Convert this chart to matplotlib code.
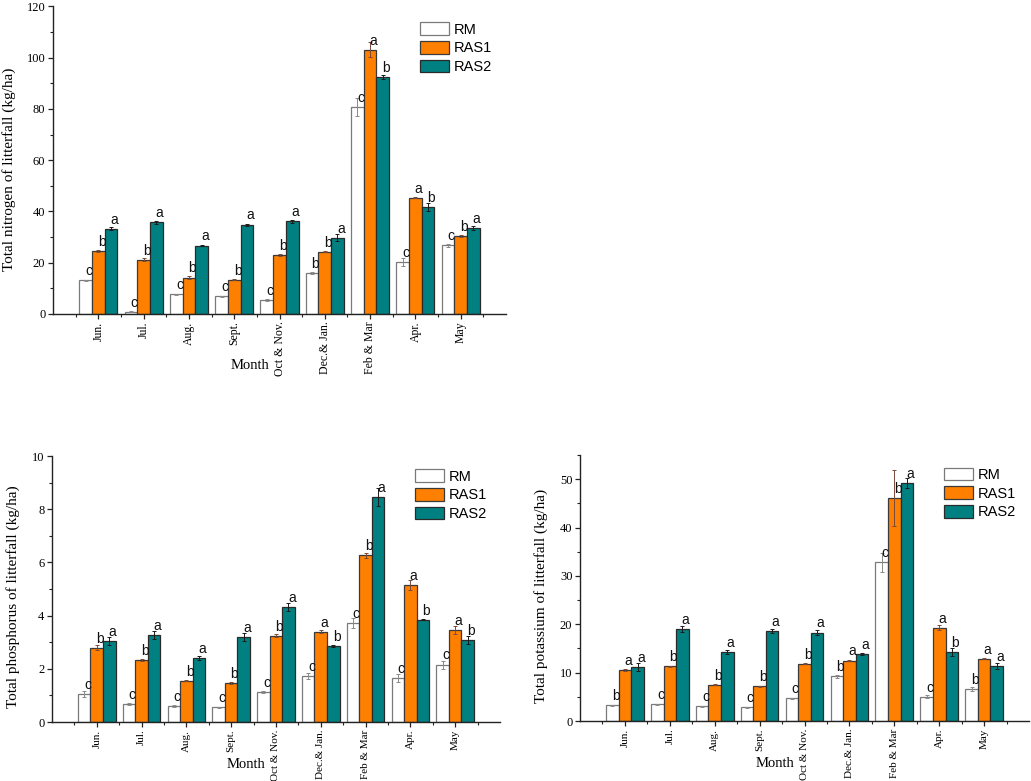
import numpy as np
import matplotlib
matplotlib.use("Agg")
import matplotlib.pyplot as plt
from matplotlib.ticker import MultipleLocator, FixedLocator

months = ["Jun.", "Jul.", "Aug.", "Sept.", "Oct & Nov.", "Dec.& Jan.", "Feb & Mar", "Apr.", "May"]
series = ["RM", "RAS1", "RAS2"]

# Nitrogen
n_rm   = [13.1, 0.9, 7.7, 7.0, 5.6, 15.9, 80.9, 20.4, 26.8]
n_ras1 = [24.6, 21.1, 14.2, 13.3, 23.0, 24.3, 103.1, 45.4, 30.5]
n_ras2 = [33.3, 35.8, 26.7, 34.9, 36.1, 29.8, 92.4, 41.7, 33.4]
n_rm_err   = [0.3, 0.2, 0.2, 0.2, 0.4, 0.3, 3.5, 1.5, 0.5]
n_ras1_err = [0.3, 0.6, 0.5, 0.2, 0.5, 0.3, 3.0, 0.3, 0.3]
n_ras2_err = [0.6, 0.5, 0.3, 0.4, 0.6, 1.3, 0.8, 1.5, 0.8]
n_letters = [["c", "c", "c", "c", "c", "b", "c", "c", "c"],
             ["b", "b", "b", "b", "b", "b", "a", "a", "b"],
             ["a", "a", "a", "a", "a", "a", "b", "b", "a"]]

# Phosphorus
p_rm   = [1.05, 0.69, 0.61, 0.55, 1.13, 1.73, 3.72, 1.64, 2.16]
p_ras1 = [2.79, 2.33, 1.55, 1.46, 3.24, 3.40, 6.27, 5.15, 3.47]
p_ras2 = [3.06, 3.27, 2.41, 3.19, 4.33, 2.86, 8.46, 3.85, 3.09]
p_rm_err   = [0.10, 0.04, 0.03, 0.02, 0.04, 0.10, 0.20, 0.15, 0.15]
p_ras1_err = [0.10, 0.05, 0.02, 0.03, 0.06, 0.05, 0.10, 0.20, 0.15]
p_ras2_err = [0.15, 0.15, 0.08, 0.15, 0.15, 0.05, 0.35, 0.02, 0.15]
p_letters = [["c", "c", "c", "c", "c", "c", "c", "c", "c"],
             ["b", "b", "b", "b", "b", "a", "b", "a", "a"],
             ["a", "a", "a", "a", "a", "b", "a", "b", "b"]]

# Potassium
k_rm   = [3.24, 3.5, 3.1, 2.83, 4.69, 9.24, 32.8, 5.03, 6.69]
k_ras1 = [10.55, 11.3, 7.5, 7.17, 11.8, 12.5, 46.1, 19.3, 12.9]
k_ras2 = [11.24, 18.97, 14.2, 18.6, 18.3, 13.9, 49.2, 14.2, 11.3]
k_rm_err   = [0.15, 0.1, 0.1, 0.1, 0.1, 0.3, 1.9, 0.3, 0.4]
k_ras1_err = [0.2, 0.1, 0.1, 0.1, 0.1, 0.1, 5.7, 0.5, 0.1]
k_ras2_err = [0.8, 0.6, 0.4, 0.4, 0.5, 0.2, 1.0, 0.8, 0.6]
k_letters = [["b", "c", "c", "c", "c", "b", "c", "c", "b"],
             ["a", "b", "b", "b", "b", "a", "b", "a", "a"],
             ["a", "a", "a", "a", "a", "a", "a", "b", "a"]]

face_colors = ["white", "#FF8000", "#008080"]
edge_colors = ["#7a7a7a", "#3a3a3a", "#2a2a2a"]
err_colors = ["#8a8a8a", "#7a4a3a", "#1a1a1a"]

SERIF = ["Liberation Serif", "DejaVu Serif"]
SANS = ["Liberation Sans", "DejaVu Sans"]

fig = plt.figure(figsize=(10.31, 7.81), dpi=100)

def panel(rect, vals, errs, letters, ylim, major, minor, ylabel, ylab_x, xlab_y, leg_y, xt_size):
    ax = fig.add_axes(rect)
    x = np.arange(1, len(months) + 1)
    w = 0.28
    for i, (v, e) in enumerate(zip(vals, errs)):
        xs = x + (i - 1) * w
        ax.bar(xs, v, width=w, color=face_colors[i], edgecolor=edge_colors[i],
               linewidth=0.9, label=series[i], zorder=2)
        ax.errorbar(xs, v, yerr=e, fmt="none", ecolor=err_colors[i],
                    elinewidth=0.7, capsize=1.5, capthick=0.7, zorder=3)
        for xx, vv, lt in zip(xs, v, letters[i]):
            ax.annotate(lt, (xx + 0.26 * w, vv), xytext=(0, 1.5),
                        textcoords="offset points", ha="center", va="bottom",
                        fontsize=10, family=SANS, color="#111111", zorder=4)
    ax.set_xlim(0, 10)
    ax.set_ylim(*ylim)
    ax.spines["top"].set_visible(False)
    ax.spines["right"].set_visible(False)
    for s in ("left", "bottom"):
        ax.spines[s].set_linewidth(1.0)
        ax.spines[s].set_color("#222222")
    ax.set_xticks(x)
    ax.set_xticklabels(months, rotation=90, family=SERIF, fontsize=xt_size)
    ax.xaxis.set_minor_locator(FixedLocator(np.arange(0.5, 10, 1.0)))
    ax.yaxis.set_major_locator(MultipleLocator(major))
    ax.yaxis.set_minor_locator(MultipleLocator(minor))
    ax.tick_params(axis="both", which="major", direction="out", length=3.5,
                   width=0.9, color="#222222", pad=2)
    ax.tick_params(axis="both", which="minor", direction="out", length=2,
                   width=0.8, color="#222222")
    for lab in ax.get_yticklabels():
        lab.set_family(SERIF)
        lab.set_fontsize(9)
    ax.set_ylabel(ylabel, family=SERIF, fontsize=11)
    ax.yaxis.set_label_coords(ylab_x, 0.47)
    ax.set_xlabel("Month", family=SERIF, fontsize=10.5)
    ax.xaxis.set_label_coords(0.434, xlab_y)
    ax.legend(loc="upper left", bbox_to_anchor=(0.81, leg_y), frameon=False,
              prop={"family": SANS, "size": 10.5}, handlelength=2.0,
              handleheight=0.95, handletextpad=0.3, labelspacing=0.3,
              borderpad=0, borderaxespad=0)
    return ax

panel([0.0514, 0.598, 0.4394, 0.3937],
      [n_rm, n_ras1, n_ras2], [n_rm_err, n_ras1_err, n_ras2_err], n_letters,
      (0, 120), 20, 10, "Total nitrogen of litterfall (kg/ha)", -0.082, -0.145, 0.948, 8.5)
panel([0.0504, 0.0755, 0.4345, 0.3406],
      [p_rm, p_ras1, p_ras2], [p_rm_err, p_ras1_err, p_ras2_err], p_letters,
      (0, 10), 2, 1, "Total phosphorus of litterfall (kg/ha)", -0.071, -0.137, 0.95, 8)
panel([0.5626, 0.0768, 0.4355, 0.3406],
      [k_rm, k_ras1, k_ras2], [k_rm_err, k_ras1_err, k_ras2_err], k_letters,
      (0, 55), 10, 5, "Total potassium of litterfall (kg/ha)", -0.071, -0.137, 0.952, 8)

fig.savefig("out.png", dpi=100)
